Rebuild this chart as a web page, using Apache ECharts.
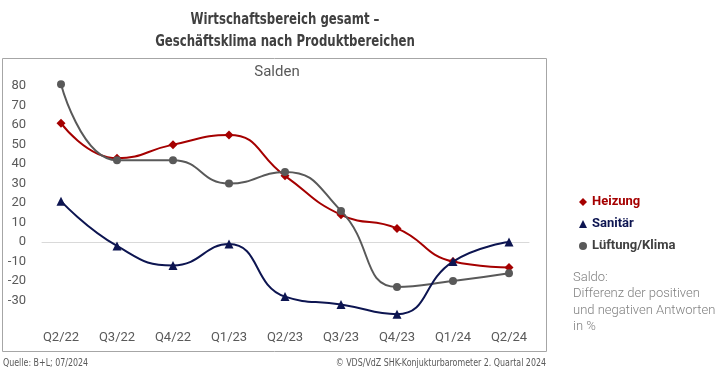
<!DOCTYPE html>
<html>
<head>
<meta charset="utf-8">
<script src="https://cdn.jsdelivr.net/npm/echarts@6/dist/echarts.min.js"></script>
<style>
	html, body { margin: 0; padding: 0; background: #fff; }
	#chart { width: 728px; height: 375px; }
</style>
</head>
<body>
<div id="chart"></div>
<script>
//////////// 데이터 ////////////
var quarters = ['Q2/22', 'Q3/22', 'Q4/22', 'Q1/23', 'Q2/23', 'Q3/23', 'Q4/23', 'Q1/24', 'Q2/24'];
var heizung  = [61, 43, 50, 55, 34, 14, 7, -10, -13];
var sanitaer = [21, -2, -12, -1, -28, -32, -37, -10, 0];
var lueftung = [81, 42, 42, 30, 36, 16, -23, -20, -16];

var seriesNames = ['Heizung', 'Sanitär', 'Lüftung/Klima'];
var seriesColors = ['#a50000', '#0d1551', '#595959'];

// y축 범위 (라벨은 -30 ~ 80만 표시)
var yMin = -40;
var yMax = 90;
var yStep = 10;
var yLabelMin = -30;
var yLabelMax = 80;

var titleLines = ['Wirtschaftsbereich gesamt –', 'Geschäftsklima nach Produktbereichen'];
var noteLines = ['Saldo:', 'Differenz der positiven', 'und negativen Antworten', 'in %'];
var sourceText = 'Quelle: B+L; 07/2024';
var copyText = '© VDS/VdZ SHK-Konjukturbarometer 2. Quartal 2024';

var condensed = '"Liberation Sans Narrow", "DejaVu Sans Condensed", Roboto, sans-serif';

//////////// 차트 ////////////
showChart();

function lineSeries(name, data, symbol, size, color, z) {
	return {
		name: name,
		type: 'line',
		xAxisIndex: 0,
		yAxisIndex: 0,
		data: data,
		smooth: 0.5,
		symbol: symbol,
		symbolSize: size,
		z: z,
		lineStyle: { color: color, width: 2 },
		itemStyle: { color: color },
		emphasis: { disabled: true }
	};
}

function showChart() {
	var chart = echarts.init(document.getElementById('chart'));

	var option = {
		animation: false,
		graphic: [
			// 바깥 테두리
			{ type: 'rect', shape: { x: 2.5, y: 58.5, width: 544, height: 293 },
			  style: { fill: null, stroke: '#a6a6a6', lineWidth: 1 }, z: -1 },
			{ type: 'text', x: 285, y: 9, scaleX: 0.87,
			  style: { text: titleLines.join('\n'), align: 'center', verticalAlign: 'top',
			           fontSize: 15, fontWeight: 'bold', fontFamily: condensed, fill: '#404040', lineHeight: 22 } },
			{ type: 'text', x: 277, y: 65,
			  style: { text: 'Salden', align: 'center', verticalAlign: 'top',
			           fontSize: 15, fontFamily: 'Roboto', fill: '#595959' } },
			{ type: 'text', x: 573, y: 269,
			  style: { text: noteLines.join('\n'), align: 'left', verticalAlign: 'top',
			           fontSize: 13, fontFamily: 'Roboto', fontWeight: 300, fill: '#808080', lineHeight: 16.5 } },
			{ type: 'text', x: 3, y: 358, scaleX: 0.88,
			  style: { text: sourceText, align: 'left', verticalAlign: 'top',
			           fontSize: 10, fontFamily: condensed, fill: '#595959' } },
			{ type: 'text', x: 546, y: 358, scaleX: 0.88,
			  style: { text: copyText, align: 'right', verticalAlign: 'top',
			           fontSize: 10, fontFamily: condensed, fill: '#595959' } }
		],
		legend: {
			orient: 'vertical',
			left: 574,
			top: 189,
			itemWidth: 8,
			itemHeight: 8,
			itemGap: 6,
			selectedMode: false,
			textStyle: { fontFamily: 'Roboto', fontSize: 13, fontWeight: 'bold', lineHeight: 16 },
			data: [
				{ name: seriesNames[0], icon: 'diamond', textStyle: { color: seriesColors[0] } },
				{ name: seriesNames[1], icon: 'triangle', textStyle: { color: seriesColors[1] } },
				{ name: seriesNames[2], icon: 'circle', textStyle: { color: '#404040' } }
			]
		},
		grid: [
			// 데이터 영역
			{ left: 33, right: 191, top: 66.7, bottom: 55 },
			// 0 선 전용
			{ left: 42, right: 199, top: 66.7, bottom: 55 }
		],
		xAxis: [
			{
				type: 'category',
				gridIndex: 0,
				data: quarters,
				boundaryGap: true,
				axisLine: { show: false },
				axisTick: { show: false },
				axisLabel: { color: '#595959', fontFamily: 'Roboto', fontSize: 13, margin: 11 }
			},
			{
				type: 'value',
				gridIndex: 1,
				min: 0,
				max: 1,
				axisLine: { show: true, onZero: true, lineStyle: { color: '#d9d9d9', width: 1 } },
				axisTick: { show: false },
				axisLabel: { show: false },
				splitLine: { show: false }
			}
		],
		yAxis: [
			{
				type: 'value',
				gridIndex: 0,
				min: yMin,
				max: yMax,
				interval: yStep,
				axisLine: { show: false },
				axisTick: { show: false },
				splitLine: { show: false },
				axisLabel: {
					color: '#595959', fontFamily: 'Roboto', fontSize: 13, margin: 7,
					padding: [0, 0, 8, 0],
					formatter: function(v) {
						return (v < yLabelMin || v > yLabelMax) ? '' : String(v);
					}
				}
			},
			{
				type: 'value',
				gridIndex: 1,
				min: yMin,
				max: yMax,
				interval: yStep,
				show: false
			}
		],
		series: [
			lineSeries(seriesNames[0], heizung, 'diamond', 9, seriesColors[0], 2),
			lineSeries(seriesNames[1], sanitaer, 'triangle', 9, seriesColors[1], 4),
			lineSeries(seriesNames[2], lueftung, 'circle', 8, seriesColors[2], 3)
		]
	};

	chart.setOption(option);
}
</script>
</body>
</html>
